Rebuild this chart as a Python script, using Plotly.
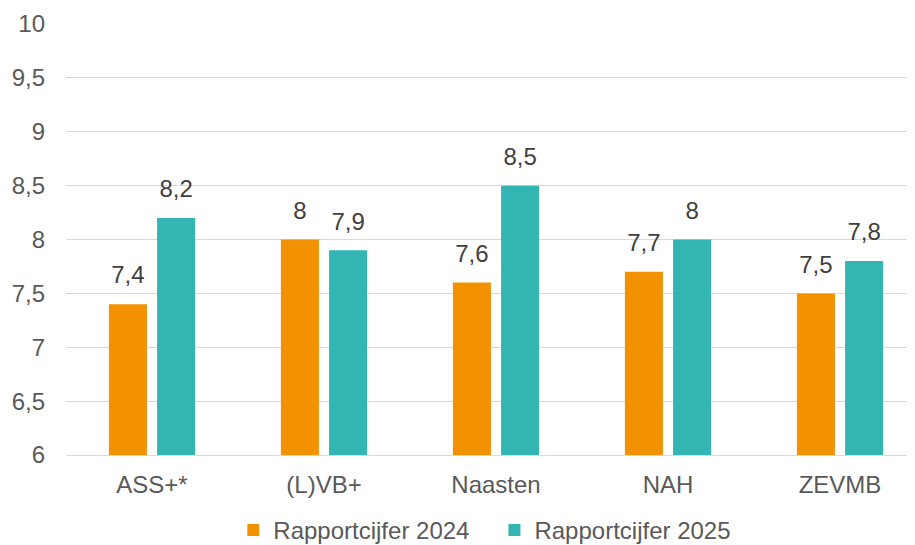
import plotly.graph_objects as go

categories = ["ASS+*", "(L)VB+", "Naasten", "NAH", "ZEVMB"]
scores_2024 = [7.4, 8.0, 7.6, 7.7, 7.5]
scores_2025 = [8.2, 7.9, 8.5, 8.0, 7.8]
series_names = ["Rapportcijfer 2024", "Rapportcijfer 2025"]
colors = ["#F39200", "#33B6B3"]


def fmt(v):
    return f"{v:g}".replace(".", ",")


fig = go.Figure()
for i, (name, vals, col) in enumerate(zip(series_names, [scores_2024, scores_2025], colors)):
    fig.add_trace(
        go.Bar(
            x=categories,
            y=vals,
            # trailing nbsp widens the gap between legend items
            name=name + ("\u00a0" * 3 if i == 0 else ""),
            marker=dict(color=col, line=dict(width=0)),
            offsetgroup=str(i),
            alignmentgroup="g",
        )
    )
for i, vals in enumerate([scores_2024, scores_2025]):
    # value labels, lifted above the bars by an invisible marker
    fig.add_trace(
        go.Scatter(
            x=categories,
            y=vals,
            mode="markers+text",
            marker=dict(size=22, opacity=0),
            text=[fmt(v) for v in vals],
            textposition="top center",
            textfont=dict(size=24, color="#404040"),
            offsetgroup=str(i),
            alignmentgroup="g",
            showlegend=False,
            hoverinfo="skip",
            cliponaxis=False,
        )
    )

fig.update_layout(
    width=925,
    height=545,
    margin=dict(l=58, r=7, t=16, b=98, autoexpand=False),
    plot_bgcolor="white",
    paper_bgcolor="white",
    font=dict(family="Liberation Sans, Arial, sans-serif", size=24, color="#595959"),
    separators=",.",
    barmode="group",
    scattermode="group",
    bargap=0.44,
    bargroupgap=0.21,
    showlegend=True,
    legend=dict(
        orientation="h",
        x=0.487,
        xanchor="center",
        yref="container",
        y=-0.012,
        yanchor="bottom",
        font=dict(size=24, color="#595959"),
        itemwidth=30,
    ),
)

fig.update_yaxes(
    range=[6, 10],
    dtick=0.5,
    showgrid=True,
    gridcolor="#D9D9D9",
    gridwidth=1,
    zeroline=False,
    ticks="",
    ticklabelstandoff=20,
    automargin=False,
)
fig.update_xaxes(
    showline=True,
    linecolor="#D9D9D9",
    linewidth=1,
    ticks="",
    ticklabelstandoff=8,
    automargin=False,
)

fig.write_html("out.html")
